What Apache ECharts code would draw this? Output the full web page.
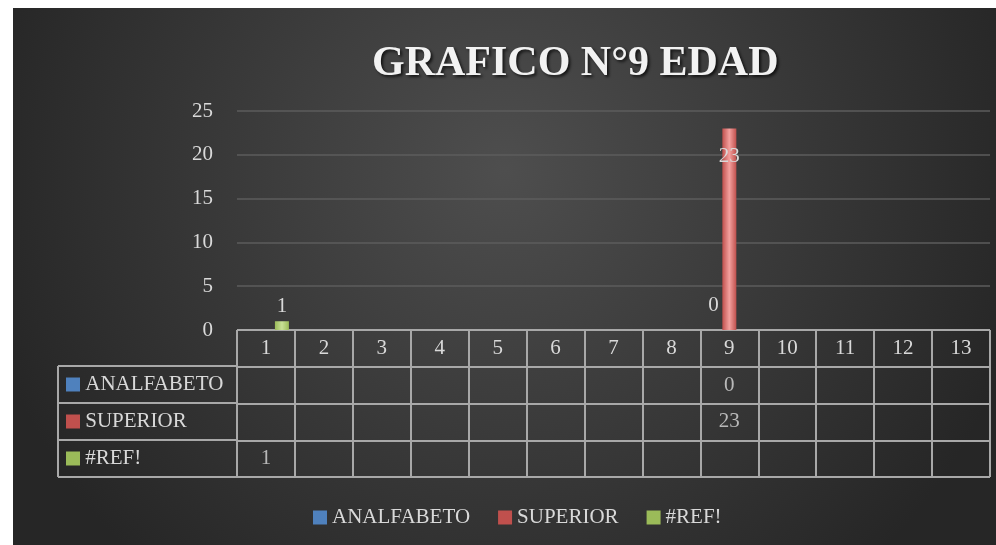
<!DOCTYPE html>
<html>
<head>
    <meta charset="utf-8">
    <script src="https://cdn.jsdelivr.net/npm/echarts@6/dist/echarts.min.js"></script>
    <style>
        html, body { margin: 0; padding: 0; background: #fff; }
        #main { position: absolute; left: 13px; top: 8px; width: 983px; height: 537px; }
    </style>
</head>
<body>
<div id="main"></div>
<script type="text/javascript">
    // datos del grafico
    var categorias = ['1', '2', '3', '4', '5', '6', '7', '8', '9', '10', '11', '12', '13'];
    var nombres = ['ANALFABETO', 'SUPERIOR', '#REF!'];
    var analfabeto = [null, null, null, null, null, null, null, null, 0, null, null, null, null];
    var superior = [null, null, null, null, null, null, null, null, 23, null, null, null, null];
    var ref = [1, null, null, null, null, null, null, null, null, null, null, null, null];
    var ticksY = [0, 5, 10, 15, 20, 25];

    var colores = ['#4f81bd', '#c0504d', '#9bbb59'];
    var claros = ['#8db3e2', '#f3a09e', '#c8e196'];
    var valores = [analfabeto, superior, ref];

    var fuente = '"Liberation Serif", serif';
    var gris = '#d9d9d9';
    var linea = '#a8a8a8';

    function degradado(i) {
        return new echarts.graphic.LinearGradient(0, 0, 1, 0, [
            { offset: 0, color: colores[i] },
            { offset: 0.5, color: claros[i] },
            { offset: 1, color: colores[i] }
        ]);
    }

    // celdas de la tabla
    var celdas = [];
    valores.forEach(function (serie, s) {
        serie.forEach(function (v, i) {
            if (v !== null) celdas.push([i, nombres[s], v]);
        });
    });

    var myChart = echarts.init(document.getElementById('main'));

    var option = {
        animation: false,
        textStyle: { fontFamily: fuente },
        backgroundColor: {
            type: 'radial', x: 0.5, y: 0.3, r: 1,
            colorStops: [
                { offset: 0, color: '#4e4e4e' },
                { offset: 1, color: '#262626' }
            ]
        },
        title: {
            text: 'GRAFICO N°9 EDAD',
            left: 354,
            top: 30,
            textStyle: {
                fontFamily: fuente,
                fontSize: 42,
                fontWeight: 'bold',
                color: '#f2f2f2',
                textShadowColor: 'rgba(0,0,0,0.7)',
                textShadowBlur: 3,
                textShadowOffsetX: 2,
                textShadowOffsetY: 2
            }
        },
        legend: {
            data: nombres.map(function (n, i) {
                return { name: n, itemStyle: { color: colores[i] } };
            }),
            left: 295,
            top: 494,
            itemWidth: 14,
            itemHeight: 14,
            itemGap: 28,
            icon: 'rect',
            textStyle: { fontFamily: fuente, fontSize: 21, color: gris }
        },
        grid: [
            { left: 224, right: 6, top: 103, bottom: 215 },
            { left: 224, right: 6, top: 322, bottom: 68 },
            { left: 45, width: 179, top: 358, bottom: 68 }
        ],
        xAxis: [
            {
                gridIndex: 0,
                type: 'category',
                data: categorias,
                axisLine: { show: false },
                axisTick: { show: false },
                axisLabel: { margin: 8, fontFamily: fuente, fontSize: 21, color: gris }
            },
            {
                gridIndex: 1,
                type: 'category',
                data: categorias,
                axisLine: { show: false },
                axisTick: { show: false },
                axisLabel: { show: false },
                splitLine: { show: true, interval: 0, lineStyle: { color: linea, width: 2 } }
            },
            {
                gridIndex: 2,
                type: 'value',
                min: 0, max: 1, interval: 1,
                axisLine: { show: false },
                axisTick: { show: false },
                axisLabel: { show: false },
                splitLine: { show: true, lineStyle: { color: linea, width: 2 } }
            }
        ],
        yAxis: [
            {
                gridIndex: 0,
                type: 'value',
                min: 0, max: 25, interval: 5,
                axisLine: { show: false },
                axisTick: { show: false },
                axisLabel: {
                    margin: 24, fontFamily: fuente, fontSize: 21, color: gris,
                    customValues: ticksY
                },
                splitLine: {
                    show: true, showMinLine: false,
                    lineStyle: { color: '#5c5c5c', width: 1.5 }
                }
            },
            {
                gridIndex: 1,
                type: 'category',
                inverse: true,
                data: [''].concat(nombres),
                axisLine: { show: false },
                axisTick: { show: false },
                axisLabel: { show: false },
                splitLine: { show: true, interval: 0, lineStyle: { color: linea, width: 2 } }
            },
            {
                gridIndex: 2,
                type: 'category',
                inverse: true,
                data: nombres,
                axisLine: { show: false },
                axisTick: { show: false },
                axisLabel: {
                    inside: true,
                    margin: 8,
                    fontFamily: fuente,
                    fontSize: 21,
                    color: gris,
                    formatter: function (v, i) {
                        return '{i' + i + '|} {t|' + v + '}';
                    },
                    rich: {
                        i0: { width: 14, height: 14, backgroundColor: colores[0] },
                        i1: { width: 14, height: 14, backgroundColor: colores[1] },
                        i2: { width: 14, height: 14, backgroundColor: colores[2] },
                        t: { fontFamily: fuente, fontSize: 21, color: gris }
                    }
                },
                splitLine: { show: true, interval: 0, lineStyle: { color: linea, width: 2 } }
            }
        ],
        series: [
            {
                name: nombres[0],
                type: 'bar',
                data: analfabeto,
                barWidth: 14,
                barGap: '14%',
                itemStyle: { color: degradado(0) },
                label: {
                    show: true, position: 'top', distance: 14,
                    fontFamily: fuente, fontSize: 21, color: gris
                }
            },
            {
                name: nombres[1],
                type: 'bar',
                data: superior,
                barWidth: 14,
                barGap: '14%',
                itemStyle: { color: degradado(1) },
                label: {
                    show: true, position: 'insideTop', offset: [0, 12],
                    fontFamily: fuente, fontSize: 21, color: gris
                }
            },
            {
                name: nombres[2],
                type: 'bar',
                data: ref,
                barWidth: 14,
                barGap: '14%',
                itemStyle: { color: degradado(2) },
                label: {
                    show: true, position: 'top', distance: 4,
                    fontFamily: fuente, fontSize: 21, color: gris
                }
            },
            {
                type: 'scatter',
                xAxisIndex: 1,
                yAxisIndex: 1,
                data: celdas,
                symbolSize: 1,
                silent: true,
                itemStyle: { color: 'rgba(0,0,0,0)' },
                label: {
                    show: true, position: 'inside',
                    formatter: function (p) { return p.value[2]; },
                    fontFamily: fuente, fontSize: 21, color: gris
                }
            }
        ]
    };
    myChart.setOption(option);
</script>
</body>
</html>
